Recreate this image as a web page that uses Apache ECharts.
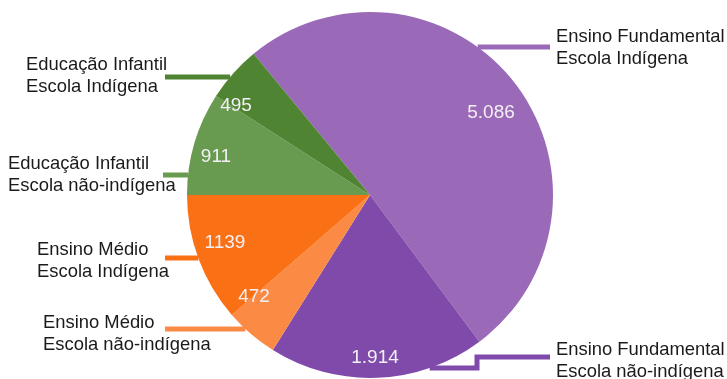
<!DOCTYPE html>
<html>
<head>
<meta charset="utf-8">
<script src="https://cdn.jsdelivr.net/npm/echarts@6/dist/echarts.min.js"></script>
<style>
  html, body { margin: 0; padding: 0; background: #fff; }
  #chart { width: 727px; height: 379px; }
</style>
</head>
<body>
<div id="chart"></div>
<script>
// Matrículas por etapa de ensino e tipo de escola
const categories = [
  'Ensino Fundamental\nEscola Indígena',
  'Ensino Fundamental\nEscola não-indígena',
  'Ensino Médio\nEscola não-indígena',
  'Ensino Médio\nEscola Indígena',
  'Educação Infantil\nEscola não-indígena',
  'Educação Infantil\nEscola Indígena'
];
const values = [5086, 1914, 472, 1139, 911, 495];
const valueText = ['5.086', '1.914', '472', '1139', '911', '495'];
const colors = ['#9a6ab9', '#7f4aa9', '#fb8a45', '#fa7015', '#689a4f', '#4f8432'];

// Pie geometry
const CX = 370, CY = 195, R = 183;
const START = 129.5;

// Outside label placement: text anchor (left, vertical middle), leader line y,
// x where the leader line ends next to the text, and an optional step.
const labelSpots = [
  { x: 556, y: 48,  lineY: 47,  lineEnd: 550, side: 1 },
  { x: 556, y: 361, lineY: 368, lineEnd: 550, side: 1, stepX: 477, stepY: 357 },
  { x: 43,  y: 334, lineY: 329, lineEnd: 165, side: -1 },
  { x: 37,  y: 261, lineY: 258, lineEnd: 165, side: -1 },
  { x: 8,   y: 175, lineY: 175, lineEnd: 163, side: -1 },
  { x: 26,  y: 76,  lineY: 77,  lineEnd: 165, side: -1 }
];

// Centres of the value labels inside the slices
const innerSpots = [
  [491, 113], [375, 358], [254, 297], [225, 243], [216, 157], [236, 106]
];

function edgeX(y, side) {
  const dy = y - CY;
  return CX + side * Math.sqrt(Math.max(0, R * R - dy * dy));
}

const pieData = categories.map((name, i) => ({
  name: name,
  value: values[i],
  itemStyle: { color: colors[i] }
}));

const chart = echarts.init(document.getElementById('chart'), null, { renderer: 'canvas' });

chart.setOption({
  backgroundColor: '#ffffff',
  animation: false,
  series: [
    {
      type: 'pie',
      center: [CX, CY],
      radius: [0, R],
      startAngle: START,
      clockwise: true,
      avoidLabelOverlap: false,
      silent: true,
      data: pieData,
      itemStyle: { borderWidth: 0 },
      label: {
        show: true,
        position: 'outside',
        formatter: p => p.name,
        fontFamily: '"Liberation Sans", Arial, sans-serif',
        fontSize: 18.4,
        lineHeight: 22,
        color: '#1a1a1a'
      },
      labelLine: {
        show: true,
        length: 10,
        length2: 10,
        lineStyle: { width: 5 }
      },
      labelLayout: function (params) {
        const s = labelSpots[params.dataIndex];
        const start = [edgeX(s.lineY, s.side), s.lineY];
        let pts;
        if (s.stepX != null) {
          pts = [start, [s.stepX, s.lineY], [s.stepX, s.stepY], [s.lineEnd, s.stepY]];
        } else {
          pts = [start, [(start[0] + s.lineEnd) / 2, s.lineY], [s.lineEnd, s.lineY]];
        }
        return {
          x: s.x,
          y: s.y,
          align: 'left',
          verticalAlign: 'middle',
          labelLinePoints: pts
        };
      }
    },
    {
      // transparent ring carrying the value labels inside the slices
      type: 'pie',
      center: [CX, CY],
      radius: [128, R],
      startAngle: START,
      clockwise: true,
      silent: true,
      avoidLabelOverlap: false,
      data: pieData.map((d, i) => ({
        name: d.name,
        value: d.value,
        itemStyle: { color: 'rgba(0,0,0,0)' }
      })),
      label: {
        show: true,
        position: 'inside',
        formatter: p => valueText[p.dataIndex],
        fontFamily: '"Liberation Sans", Arial, sans-serif',
        fontSize: 19,
        color: '#f3f0f5'
      },
      labelLine: { show: false },
      labelLayout: function (params) {
        const p = innerSpots[params.dataIndex];
        return { x: p[0], y: p[1], align: 'center', verticalAlign: 'middle' };
      }
    }
  ]
});
</script>
</body>
</html>
